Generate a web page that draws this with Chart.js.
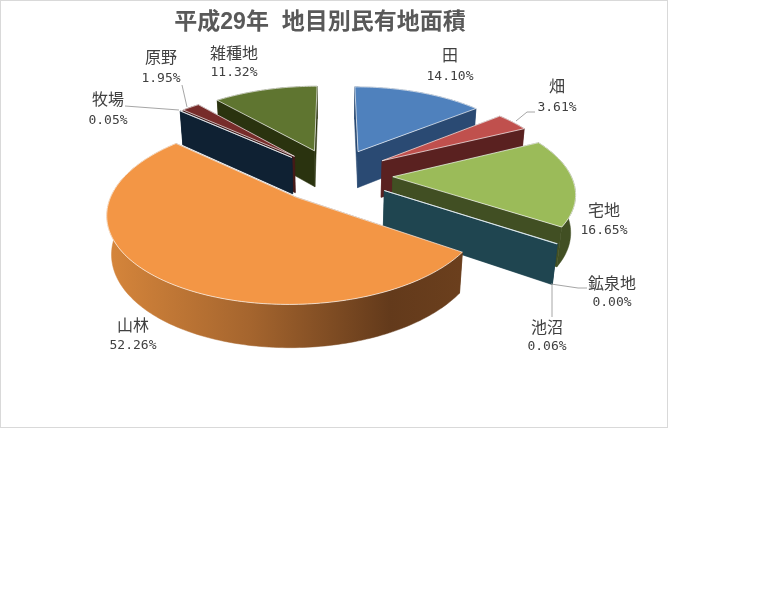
<!DOCTYPE html>
<html>
<head>
<meta charset="utf-8">
<style>
  html, body { margin: 0; padding: 0; background: #fff; }
  canvas { display: block; }
</style>
<script src="https://cdn.jsdelivr.net/npm/chart.js@4"></script>
</head>
<body>
<canvas id="chart" width="768" height="614"></canvas>
<script>
const titleText = "平成29年  地目別民有地面積";
const categories = ["田", "畑", "宅地", "鉱泉地", "池沼", "山林", "牧場", "原野", "雑種地"];
const shares = [14.10, 3.61, 16.65, 0.00, 0.06, 52.26, 0.05, 1.95, 11.32];
const topColors = ["#4f81bd", "#c0504d", "#9bbb59", "#8064a2", "#4bacc6", "#f39645", "#2c4d75", "#772c2a", "#5f7530"];
const wallColors = ["#2a4a73", "#5a2120", "#414f23", "#3f3151", "#1f4550", "#653a1b", "#0f2133", "#451a19", "#2a330f"];

// label centres, [x, name y, percent y]
const labelPos = [
  [450, 55, 77], [557, 86, 108], [604, 210, 231], [612, 283, 303], [547, 327, 347],
  [133, 325, 346], [108, 99, 121], [161, 57, 79], [234, 53, 73]
];
const leaders = [
  [[535, 112], [527, 112], [516, 121]],
  [[587, 288], [578, 288], [551, 284]],
  [[552, 317], [552, 285]],
  [[125, 106], [179, 110]],
  [[182, 85], [187, 107]]
];

// fake 3D view of the pie plane
const view = { cx: 334, cy: 175, a: 178, b: 82, k: 0.16, h: 38, shrink: 0.02, explode: 0.33 };

const project = (u, v, z) => {
  const s = 1 / (1 - view.k * v + view.shrink * z);
  return [view.cx + view.a * u * s, view.cy + (view.b * v + view.h * z) * s];
};

const pathOf = (ctx, pts) => {
  ctx.beginPath();
  pts.forEach((p, i) => (i ? ctx.lineTo(p[0], p[1]) : ctx.moveTo(p[0], p[1])));
  ctx.closePath();
};

const fillPoly = (ctx, pts, color) => {
  pathOf(ctx, pts);
  ctx.fillStyle = color;
  ctx.strokeStyle = color;
  ctx.lineWidth = 0.5;
  ctx.fill();
  ctx.stroke();
};

const drawSlice = (ctx, arc, index) => {
  const start = arc.startAngle;
  const end = arc.endAngle;
  const mid = (start + end) / 2;
  const ox = Math.cos(mid) * view.explode;
  const oy = Math.sin(mid) * view.explode;
  const steps = Math.max(2, Math.ceil((end - start) / 0.02));

  const rim = (z) => {
    const pts = [];
    for (let i = 0; i <= steps; i++) {
      const t = start + ((end - start) * i) / steps;
      pts.push(project(ox + Math.cos(t), oy + Math.sin(t), z));
    }
    return pts;
  };
  const topRim = rim(0);
  const bottomRim = rim(1);
  const apexTop = project(ox, oy, 0);
  const apexBottom = project(ox, oy, 1);

  let wall = wallColors[index];
  if (categories[index] === "山林") {
    wall = ctx.createLinearGradient(110, 0, 460, 0);
    wall.addColorStop(0, "#d5853b");
    wall.addColorStop(0.4, "#a5652e");
    wall.addColorStop(0.8, "#633a1b");
    wall.addColorStop(1, "#6b3f1d");
  }

  const radial = () => {
    fillPoly(ctx, [apexTop, topRim[0], bottomRim[0], apexBottom], wallColors[index]);
    fillPoly(ctx, [apexTop, topRim[steps], bottomRim[steps], apexBottom], wallColors[index]);
  };
  const outer = () => fillPoly(ctx, topRim.concat(bottomRim.slice().reverse()), wall);

  // the big front slice hides its cut faces, the others show them
  if (Math.sin(mid) > 0.6) {
    radial();
    outer();
  } else {
    outer();
    radial();
  }

  pathOf(ctx, [apexTop].concat(topRim));
  ctx.fillStyle = arc.options.backgroundColor;
  ctx.fill();
  ctx.strokeStyle = "rgba(255,255,255,0.75)";
  ctx.lineWidth = 0.9;
  ctx.stroke();
};

const pie3d = {
  id: "pie3d",
  beforeDraw(chart) {
    const ctx = chart.ctx;
    ctx.save();
    ctx.fillStyle = "#fff";
    ctx.fillRect(0, 0, chart.width, chart.height);
    ctx.strokeStyle = "#d9d9d9";
    ctx.lineWidth = 1;
    ctx.strokeRect(0.5, 0.5, 667, 427);
    ctx.restore();
  },
  beforeDatasetDraw(chart, args) {
    const ctx = chart.ctx;
    const arcs = chart.getDatasetMeta(args.index).data;
    const order = arcs
      .map((arc, i) => ({ arc, i }))
      .filter((d) => shares[d.i] > 0)
      .sort((p, q) => Math.sin((p.arc.startAngle + p.arc.endAngle) / 2) - Math.sin((q.arc.startAngle + q.arc.endAngle) / 2));
    ctx.save();
    order.forEach((d) => drawSlice(ctx, d.arc, d.i));
    ctx.restore();
    return false;
  },
  afterDraw(chart) {
    const ctx = chart.ctx;
    ctx.save();
    ctx.strokeStyle = "#a6a6a6";
    ctx.lineWidth = 1;
    leaders.forEach((line) => {
      ctx.beginPath();
      line.forEach((p, i) => (i ? ctx.lineTo(p[0], p[1]) : ctx.moveTo(p[0], p[1])));
      ctx.stroke();
    });

    ctx.textAlign = "center";
    ctx.textBaseline = "middle";
    ctx.fillStyle = "#595959";
    ctx.font = 'bold 23px "Liberation Sans", "Noto Sans CJK JP", sans-serif';
    ctx.fillText(titleText, 320, 23);

    ctx.fillStyle = "#404040";
    categories.forEach((name, i) => {
      const [x, nameY, pctY] = labelPos[i];
      ctx.font = '16px "Noto Sans CJK JP", sans-serif';
      ctx.fillText(name, x, nameY);
      ctx.font = '13px "DejaVu Sans Mono", monospace';
      ctx.fillText(shares[i].toFixed(2) + "%", x, pctY);
    });
    ctx.restore();
  }
};

new Chart(document.getElementById("chart"), {
  type: "pie",
  data: {
    labels: categories,
    datasets: [{ data: shares, backgroundColor: topColors, borderWidth: 0 }]
  },
  options: {
    responsive: false,
    animation: false,
    plugins: { legend: { display: false }, tooltip: { enabled: false }, title: { display: false } }
  },
  plugins: [pie3d]
});
</script>
</body>
</html>
